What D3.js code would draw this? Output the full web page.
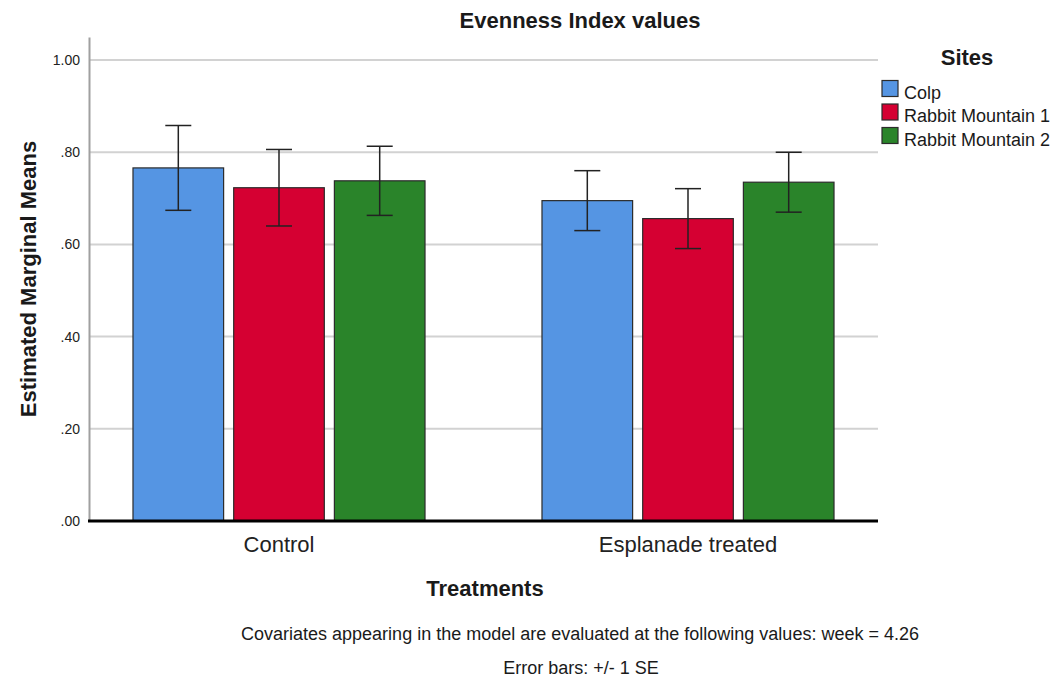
<!DOCTYPE html>
<html>
<head>
<meta charset="utf-8">
<script src="https://cdn.jsdelivr.net/npm/d3@7"></script>
<style>
  body { margin: 0; background: #fff; }
  text { font-family: Arial, "Liberation Sans", sans-serif; fill: #1a1a1a; }
</style>
</head>
<body>
<svg id="chart" width="1053" height="681"></svg>
<script>
const treatments = ["Control", "Esplanade treated"];
const sites = ["Colp", "Rabbit Mountain 1", "Rabbit Mountain 2"];
const siteColors = ["#5595e3", "#d50032", "#2a842a"];
// means per treatment, in site order
const means = [
   [0.766, 0.723, 0.738],
   [0.695, 0.656, 0.735]
];
// +/- 1 SE
const stdErr = [
   [0.092, 0.083, 0.075],
   [0.065, 0.065, 0.065]
];
const yTicks = [0, 0.2, 0.4, 0.6, 0.8, 1.0];

const svg = d3.select("#chart");

const plotLeft = 89, plotRight = 878;
const y = d3.scaleLinear().domain([0, 1.05]).range([521, 37]);

const x0 = d3.scaleBand()
   .domain(treatments)
   .range([74.5, 892.5])
   .paddingInner(0.286)
   .paddingOuter(0.143);

const x1 = d3.scaleBand()
   .domain(sites)
   .range([0, x0.bandwidth()])
   .paddingInner(0.1);

const color = d3.scaleOrdinal().domain(sites).range(siteColors);

// gridlines
svg.append("g")
   .selectAll("line")
   .data(yTicks.filter(d => d > 0))
   .join("line")
   .attr("x1", plotLeft)
   .attr("x2", plotRight)
   .attr("y1", d => y(d))
   .attr("y2", d => y(d))
   .attr("stroke", "#d2d2d2")
   .attr("stroke-width", 2);

// y axis
const yAxis = svg.append("g")
   .attr("transform", `translate(${plotLeft},0)`)
   .call(d3.axisLeft(y).tickValues(yTicks).tickSize(0).tickPadding(9)
      .tickFormat(d => d3.format(".2f")(d).replace(/^0/, "")));
yAxis.select(".domain").attr("stroke", "#a0a0a0").attr("stroke-width", 2);
yAxis.selectAll("text").attr("font-size", 14).style("fill", "#222");

// bars
const rows = [];
treatments.forEach((t, i) => {
   sites.forEach((s, j) => {
      rows.push({ treatment: t, site: s, mean: means[i][j], se: stdErr[i][j] });
   });
});

const bar = svg.append("g")
   .selectAll("g")
   .data(rows)
   .join("g")
   .attr("transform", d => `translate(${x0(d.treatment) + x1(d.site)},0)`);

bar.append("rect")
   .attr("x", 0)
   .attr("y", d => y(d.mean))
   .attr("width", x1.bandwidth())
   .attr("height", d => y(0) - y(d.mean))
   .attr("fill", d => color(d.site))
   .attr("stroke", "#2b2b2b")
   .attr("stroke-width", 1.2);

// error bars
const cx = x1.bandwidth() / 2, cap = 13;
bar.append("line")
   .attr("x1", cx).attr("x2", cx)
   .attr("y1", d => y(d.mean + d.se))
   .attr("y2", d => y(d.mean - d.se))
   .attr("stroke", "#222").attr("stroke-width", 1.5);
bar.append("line")
   .attr("x1", cx - cap).attr("x2", cx + cap)
   .attr("y1", d => y(d.mean + d.se))
   .attr("y2", d => y(d.mean + d.se))
   .attr("stroke", "#222").attr("stroke-width", 1.5);
bar.append("line")
   .attr("x1", cx - cap).attr("x2", cx + cap)
   .attr("y1", d => y(d.mean - d.se))
   .attr("y2", d => y(d.mean - d.se))
   .attr("stroke", "#222").attr("stroke-width", 1.5);

// x axis baseline
svg.append("line")
   .attr("x1", plotLeft - 1).attr("x2", plotRight)
   .attr("y1", y(0)).attr("y2", y(0))
   .attr("stroke", "#000").attr("stroke-width", 3);

const xAxis = svg.append("g")
   .attr("transform", `translate(0,${y(0)})`)
   .call(d3.axisBottom(x0).tickSize(0).tickPadding(15));
xAxis.select(".domain").remove();
xAxis.selectAll("text").attr("font-size", 22).style("fill", "#222");

// titles
svg.append("text")
   .attr("x", 580).attr("y", 28)
   .attr("text-anchor", "middle")
   .attr("font-size", 22).attr("font-weight", "bold")
   .text("Evenness Index values");

svg.append("text")
   .attr("transform", "translate(36,279) rotate(-90)")
   .attr("text-anchor", "middle")
   .attr("font-size", 22).attr("font-weight", "bold")
   .text("Estimated Marginal Means");

svg.append("text")
   .attr("x", 485).attr("y", 596)
   .attr("text-anchor", "middle")
   .attr("font-size", 22).attr("font-weight", "bold")
   .text("Treatments");

svg.append("text")
   .attr("x", 580).attr("y", 640)
   .attr("text-anchor", "middle")
   .attr("font-size", 18)
   .text("Covariates appearing in the model are evaluated at the following values: week = 4.26");

svg.append("text")
   .attr("x", 581).attr("y", 674)
   .attr("text-anchor", "middle")
   .attr("font-size", 18)
   .text("Error bars: +/- 1 SE");

// legend
svg.append("text")
   .attr("x", 967).attr("y", 65)
   .attr("text-anchor", "middle")
   .attr("font-size", 22).attr("font-weight", "bold")
   .text("Sites");

const legend = svg.append("g")
   .selectAll("g")
   .data(sites)
   .join("g")
   .attr("transform", (d, i) => `translate(882,${80.5 + i * 23.5})`);

legend.append("rect")
   .attr("width", 16).attr("height", 16)
   .attr("fill", d => color(d))
   .attr("stroke", "#2b2b2b").attr("stroke-width", 1.2);

legend.append("text")
   .attr("x", 22).attr("y", 18)
   .attr("font-size", 18)
   .text(d => d);
</script>
</body>
</html>
